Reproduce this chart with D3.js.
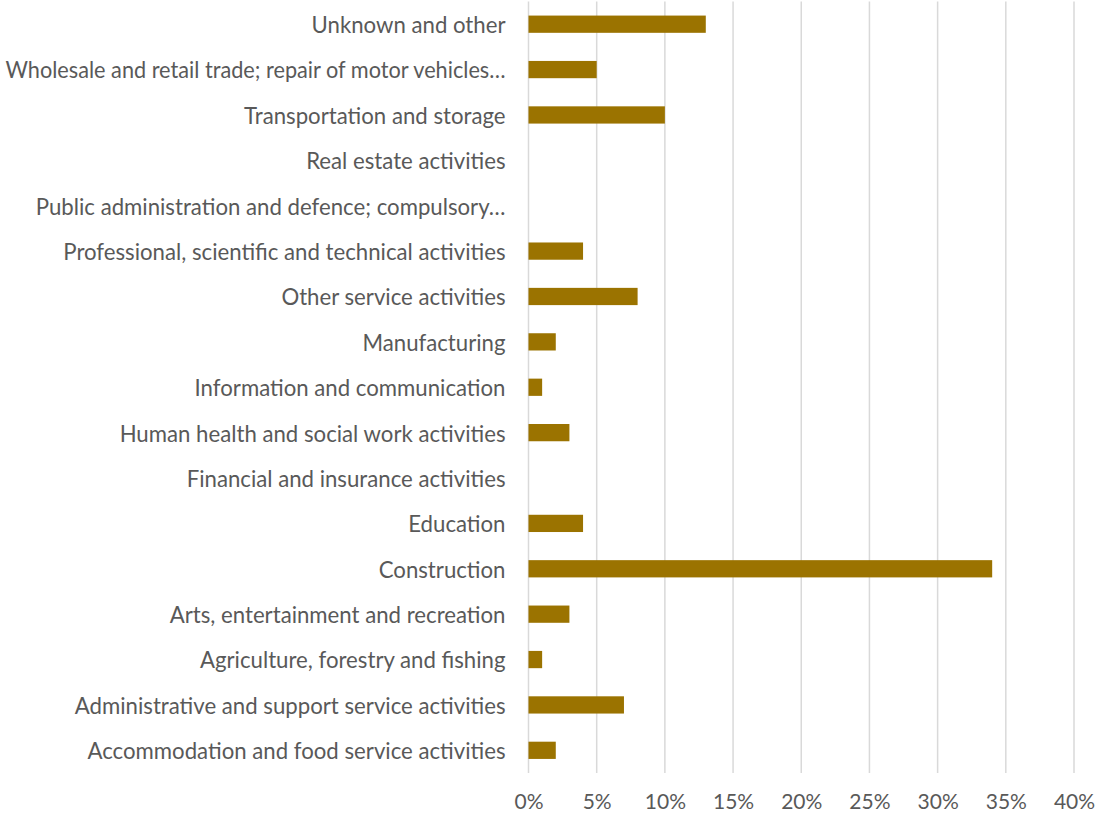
<!DOCTYPE html>
<style>
  body { margin: 0; background: #fff; }
  .tick text { font-family: Lato, "Open Sans", sans-serif; fill: #595959; }
</style>
<svg width="1096" height="814"></svg>
<script src="https://d3js.org/d3.v7.min.js"></script>
<script>

// categories listed bottom to top as in the picture
var sectors = [
  "Accommodation and food service activities",
  "Administrative and support service activities",
  "Agriculture, forestry and fishing",
  "Arts, entertainment and recreation",
  "Construction",
  "Education",
  "Financial and insurance activities",
  "Human health and social work activities",
  "Information and communication",
  "Manufacturing",
  "Other service activities",
  "Professional, scientific and technical activities",
  "Public administration and defence; compulsory\u2026",
  "Real estate activities",
  "Transportation and storage",
  "Wholesale and retail trade; repair of motor vehicles\u2026",
  "Unknown and other"
];
var shares = [2, 7, 1, 3, 34, 4, 0, 3, 1, 2, 8, 4, 0, 0, 10, 5, 13];
var xTicks = [0, 5, 10, 15, 20, 25, 30, 35, 40];

var svg = d3.select("svg"),
    margin = {top: 1.5, right: 22, bottom: 41, left: 528.5},
    width = +svg.attr("width") - margin.left - margin.right,
    height = +svg.attr("height") - margin.top - margin.bottom,
    g = svg.append("g").attr("transform", "translate(" + margin.left + "," + margin.top + ")");

var x = d3.scaleLinear().domain([0, 40]).range([0, width]);
var y = d3.scaleBand()
    .domain(sectors.slice().reverse())
    .range([0, height])
    .paddingInner(0.62)
    .paddingOuter(0.31);

// vertical gridlines
g.selectAll(".grid")
  .data(xTicks)
  .enter().append("line")
    .attr("class", "grid")
    .attr("x1", function(d) { return x(d); })
    .attr("x2", function(d) { return x(d); })
    .attr("y1", 0)
    .attr("y2", height)
    .attr("stroke", "#d9d9d9")
    .attr("stroke-width", 1.5);

g.selectAll(".bar")
  .data(sectors)
  .enter().append("rect")
    .attr("class", "bar")
    .attr("x", x(0))
    .attr("y", function(d) { return y(d); })
    .attr("width", function(d, i) { return x(shares[i]) - x(0); })
    .attr("height", y.bandwidth())
    .attr("fill", "#9b7300");

var xAxis = g.append("g")
    .attr("transform", "translate(0," + height + ")")
    .call(d3.axisBottom(x).tickValues(xTicks).tickFormat(function(d) { return d + "%"; }).tickSize(0).tickPadding(21));
xAxis.select(".domain").remove();
xAxis.selectAll("text").style("font-size", "21px");

var yAxis = g.append("g")
    .call(d3.axisLeft(y).tickSize(0).tickPadding(23));
yAxis.select(".domain").remove();
yAxis.selectAll("text")
    .style("font-size", "22.2px")
    .attr("dy", "0.4em")
    .each(function() {
      // long labels must fit left of the axis
      if (this.getComputedTextLength() > 500) {
        d3.select(this).attr("textLength", 500).attr("lengthAdjust", "spacingAndGlyphs");
      }
    });

</script>
